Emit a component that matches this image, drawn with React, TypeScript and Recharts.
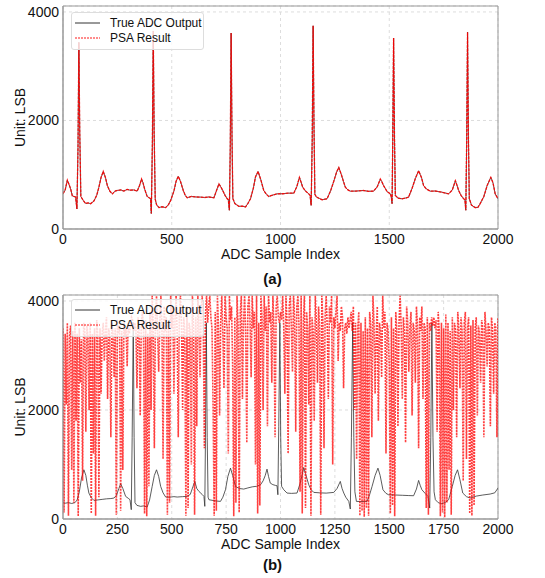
import React from 'react';
import { LineChart, Line, XAxis, YAxis, CartesianGrid, ReferenceArea } from 'recharts';

// (a) true ADC output, PSA result is identical here
const aIdx = [0, 10, 20, 28, 35, 43, 50, 58, 64, 69, 73, 77, 82, 93, 104, 115, 127, 142, 155, 165, 175, 185, 195, 204, 215, 227, 240, 250, 265, 280, 295, 310, 326, 341, 352, 361, 368, 375, 387, 398, 403, 406, 411, 415, 419, 424, 430, 441, 455, 472, 485, 495, 510, 520, 530, 540, 553, 562, 571, 590, 610, 632, 650, 670, 694, 705, 717, 725, 733, 745, 755, 760, 765, 769, 773, 777, 781, 790, 808, 825, 839, 850, 862, 875, 885, 897, 910, 923, 935, 946, 960, 984, 1010, 1035, 1061, 1075, 1087, 1095, 1102, 1115, 1130, 1136, 1141, 1146, 1150, 1154, 1158, 1165, 1180, 1191, 1205, 1214, 1230, 1245, 1258, 1268, 1280, 1290, 1298, 1310, 1321, 1350, 1380, 1405, 1428, 1445, 1459, 1466, 1474, 1490, 1505, 1509, 1513, 1516, 1520, 1524, 1528, 1540, 1559, 1575, 1589, 1605, 1620, 1635, 1648, 1658, 1670, 1689, 1710, 1740, 1773, 1790, 1804, 1812, 1819, 1830, 1842, 1848, 1852, 1856, 1860, 1864, 1868, 1878, 1895, 1908, 1918, 1935, 1950, 1967, 1977, 1987, 2000];
const aVal = [650, 720, 900, 820, 740, 610, 600, 590, 370, 1500, 3440, 1800, 600, 527, 470, 480, 467, 515, 620, 770, 950, 1060, 950, 800, 700, 648, 700, 710, 720, 700, 730, 715, 720, 697, 800, 920, 850, 740, 600, 570, 557, 285, 1600, 3650, 1800, 550, 450, 394, 410, 394, 450, 527, 700, 880, 970, 880, 710, 620, 576, 600, 590, 588, 580, 590, 576, 700, 830, 780, 721, 620, 557, 540, 345, 1500, 3612, 1700, 560, 470, 418, 420, 406, 470, 557, 750, 960, 1060, 900, 710, 640, 600, 620, 648, 650, 660, 660, 780, 952, 860, 770, 700, 648, 620, 436, 1700, 3745, 1900, 640, 590, 560, 540, 550, 557, 700, 880, 1050, 1133, 1000, 870, 770, 720, 697, 700, 710, 695, 697, 780, 920, 870, 800, 690, 648, 600, 467, 1600, 3520, 1700, 620, 570, 557, 570, 588, 750, 930, 1073, 950, 800, 740, 697, 700, 680, 648, 720, 890, 800, 710, 620, 557, 540, 345, 1600, 3630, 1700, 560, 440, 394, 400, 467, 600, 800, 952, 850, 648, 557];

// (b) true ADC output
const bIdx = [0, 10, 25, 40, 55, 65, 75, 85, 96, 105, 112, 119, 130, 142, 160, 180, 200, 220, 234, 245, 257, 265, 275, 288, 300, 308, 314, 318, 323, 327, 331, 340, 357, 370, 387, 398, 410, 420, 430, 440, 449, 460, 472, 490, 510, 525, 550, 570, 585, 598, 606, 615, 625, 640, 648, 652, 655, 659, 663, 667, 671, 690, 705, 724, 735, 747, 758, 770, 780, 793, 810, 831, 850, 870, 890, 908, 920, 930, 938, 945, 953, 965, 978, 984, 988, 992, 997, 1001, 1005, 1015, 1030, 1050, 1076, 1090, 1100, 1107, 1115, 1130, 1140, 1153, 1180, 1210, 1245, 1260, 1275, 1283, 1291, 1300, 1314, 1321, 1326, 1332, 1337, 1342, 1349, 1370, 1398, 1410, 1421, 1435, 1448, 1458, 1471, 1485, 1497, 1530, 1560, 1590, 1612, 1625, 1635, 1642, 1650, 1665, 1678, 1686, 1691, 1696, 1701, 1706, 1712, 1725, 1742, 1760, 1773, 1790, 1803, 1814, 1825, 1838, 1855, 1872, 1900, 1930, 1964, 1985, 2000];
const bVal = [300, 290, 300, 285, 300, 350, 500, 750, 903, 800, 620, 476, 390, 342, 350, 360, 370, 375, 384, 430, 560, 647, 560, 415, 380, 354, 171, 1500, 3600, 1500, 300, 250, 232, 240, 220, 350, 598, 800, 903, 780, 598, 480, 403, 400, 410, 403, 410, 415, 450, 600, 690, 560, 506, 450, 415, 232, 1500, 3600, 1500, 400, 354, 340, 330, 323, 400, 537, 780, 933, 800, 598, 560, 549, 570, 590, 600, 628, 700, 800, 915, 780, 659, 630, 615, 610, 445, 1700, 3600, 1500, 600, 537, 476, 470, 476, 650, 820, 945, 830, 628, 540, 488, 480, 475, 488, 560, 690, 560, 476, 400, 323, 183, 1500, 3600, 1500, 500, 323, 320, 323, 450, 598, 800, 933, 800, 537, 470, 445, 440, 435, 430, 427, 550, 708, 620, 537, 470, 415, 201, 1500, 3600, 1500, 500, 354, 300, 280, 310, 354, 600, 800, 903, 720, 476, 410, 384, 420, 440, 458, 480, 567];

// (b) PSA result, one value every 5 samples
const psaStep = 5;
const psaB = [
  3500, 120, 3400, 2100, 3600, 60, 3350, 3550, 900, 3450, 300, 3600, 1800, 3400, 50, 3500, 2500, 3300, 700, 3600,
  3450, 1600, 3550, 3350, 2000, 3600, 100, 3400, 1200, 3500, 60, 3650, 3350, 400, 3500, 2300, 3400, 3600, 2900, 3450,
  3700, 2200, 3500, 3350, 1500, 3600, 3400, 2600, 3500, 80, 3650, 3400, 3550, 150, 3450, 900, 3600, 3350, 3500, 2800,
  3600, 3400, 3550, 3700, 3650, 3450, 3600, 3500, 2400, 3700, 3450, 1900, 3600, 3800, 3500, 100, 3650, 50, 3400, 600,
  3800, 2000, 4095, 3500, 1300, 3700, 4095, 3400, 2700, 3600, 4095, 3500, 1100, 3900, 3450, 3700, 80, 3600, 300, 4095,
  3500, 3900, 2300, 3650, 4095, 3400, 1500, 3800, 4095, 3550, 2000, 3700, 3450, 60, 3900, 200, 3600, 3450, 1000, 4095,
  3500, 80, 3700, 1700, 4095, 3600, 2600, 3850, 4095, 3500, 1300, 3750, 4095, 3600, 3900, 4095, 3700, 3500, 2100, 60,
  3800, 150, 4095, 3500, 1900, 3600, 4095, 3400, 2400, 4095, 3700, 3500, 1200, 4095, 3650, 3900, 2800, 50, 3700, 300,
  4095, 3550, 120, 3800, 4095, 2200, 3600, 4095, 3450, 1400, 3900, 4095, 3600, 2600, 4095, 3500, 3800, 1000, 4095, 100,
  3600, 250, 4095, 3700, 2000, 4095, 3450, 3900, 1700, 4095, 3600, 3800, 2500, 4095, 3500, 1500, 3900, 4095, 3700, 3600,
  3800, 3650, 4095, 3500, 2300, 4095, 3600, 1200, 3900, 4095, 3500, 2700, 4095, 3700, 1600, 3900, 4095, 3550, 500, 4095,
  100, 3600, 4095, 200, 3800, 3500, 2100, 4095, 60, 3700, 3450, 1800, 4095, 3600, 2500, 3900, 3500, 80, 4095, 3600,
  1300, 3700, 4095, 3500, 2200, 3900, 3600, 4095, 1000, 3700, 3500, 3800, 4095, 2900, 3600, 3450, 3900, 3700, 2400, 3500,
  3600, 3400, 3700, 3500, 3650, 3800, 3450, 3900, 2000, 3600, 1100, 3500, 3800, 60, 3600, 150, 3450, 40, 3700, 200,
  3500, 60, 3800, 3550, 1500, 4095, 3600, 2300, 3400, 3900, 1800, 3600, 3450, 2600, 4095, 3500, 3800, 1200, 3600, 3450,
  2800, 100, 3700, 250, 3500, 50, 3800, 3450, 1700, 3600, 4095, 3500, 2200, 3700, 3400, 1400, 3900, 3600, 2700, 3500,
  3800, 1900, 3600, 3450, 2500, 3900, 3550, 1300, 3700, 3450, 3900, 2200, 3600, 3500, 200, 3700, 80, 3600, 3450, 3700,
  3550, 3700, 3500, 3650, 1600, 3800, 3450, 50, 3600, 120, 3500, 30, 3750, 300, 3600, 900, 3450, 80, 3700, 2000,
  3600, 3450, 1500, 3800, 3500, 2400, 3700, 3450, 700, 3600, 3800, 1100, 3500, 3700, 100, 3550, 60, 3650, 250, 3500,
  3700, 1900, 3550, 3400, 2500, 3650, 3500, 1500, 3800, 3450, 2800, 3600, 3500, 1700, 3700, 3450, 2300, 3600, 3500, 1500, 3700,
];

const xTicksA = [0, 500, 1000, 1500, 2000];
const xTicksB = [0, 250, 500, 750, 1000, 1250, 1500, 1750, 2000];
const yTicks = [0, 2000, 4000];

const FONT = '"Liberation Sans", Arial, sans-serif';
const tickStyle = { fontFamily: FONT, fontSize: 14, fill: '#111' };
const labelStyle = { fontFamily: FONT, fontSize: 14, fill: '#111' };

const dataA = aIdx.map((x, i) => ({ x, v: aVal[i] }));
const dataB = bIdx.map((x, i) => ({ x, v: bVal[i] }));
const dataPsaB = psaB.map((v, i) => ({ x: i * psaStep, v }));

function LegendBox({ top }: { top: number }) {
  return (
    <div
      style={{
        position: 'absolute', left: 71, top, width: 131, height: 36,
        background: 'rgba(255,255,255,0.8)', border: '1px solid #ddd', borderRadius: 3,
        fontFamily: FONT, fontSize: 12, color: '#111',
      }}
    >
      <div style={{ position: 'absolute', left: 3, top: 3, display: 'flex', alignItems: 'center', height: 14 }}>
        <svg width={25} height={14}><line x1={0} y1={7} x2={25} y2={7} stroke="#333" strokeWidth={1} /></svg>
        <span style={{ marginLeft: 10 }}>True ADC Output</span>
      </div>
      <div style={{ position: 'absolute', left: 3, top: 18, display: 'flex', alignItems: 'center', height: 14 }}>
        <svg width={25} height={14}><line x1={0} y1={7} x2={25} y2={7} stroke="red" strokeOpacity={0.6} strokeDasharray="2 1" strokeWidth={1.4} /></svg>
        <span style={{ marginLeft: 10 }}>PSA Result</span>
      </div>
    </div>
  );
}

function Panel({ trueData, psaData, xTicks, top, psaWidth, psaOpacity, psaDash }: { trueData: any[]; psaData: any[]; xTicks: number[]; top: number; psaWidth: number; psaOpacity: number; psaDash: string }) {
  return (
    <LineChart width={545} height={270} margin={{ top, right: 47, left: 8, bottom: 3 }} data={trueData}>
      <CartesianGrid stroke="#ddd" strokeDasharray="3 3" />
      <XAxis
        type="number" dataKey="x" domain={[0, 2000]} ticks={xTicks} allowDataOverflow
        tickLine={false} tickSize={0} tickMargin={5} axisLine={{ stroke: '#999' }} tick={tickStyle} height={30}
        label={{ value: 'ADC Sample Index', position: 'insideBottom', offset: 0, ...labelStyle }}
      />
      <YAxis
        type="number" domain={[0, 4110]} ticks={yTicks} allowDataOverflow
        tickLine={false} tickSize={0} tickMargin={4} axisLine={{ stroke: '#999' }} tick={tickStyle} width={55}
        label={{ value: 'Unit: LSB', angle: -90, position: 'insideLeft', offset: 12, textAnchor: 'middle', ...labelStyle }}
      />
      <ReferenceArea x1={0} x2={2000} y1={0} y2={4110} fill="none" stroke="#999" strokeWidth={1} />
      <Line data={trueData} dataKey="v" type="linear" stroke="#333" strokeWidth={0.8} dot={false} isAnimationActive={false} />
      <Line data={psaData} dataKey="v" type="linear" stroke="#ff0000" strokeOpacity={psaOpacity} strokeWidth={psaWidth} strokeDasharray={psaDash} dot={false} isAnimationActive={false} />
    </LineChart>
  );
}

export default function App() {
  const caption = { position: 'absolute' as const, left: 0, width: 545, textAlign: 'center' as const, fontFamily: FONT, fontWeight: 'bold' as const, fontSize: 15, color: '#111' };
  return (
    <div style={{ position: 'absolute', left: 0, top: 0, width: 545, height: 578, background: '#fff' }}>
      <div style={{ position: 'absolute', left: 0, top: -8 }}>
        <Panel trueData={dataA} psaData={dataA} xTicks={xTicksA} top={14} psaWidth={1.3} psaOpacity={0.9} psaDash="3 1" />
      </div>
      <div style={{ position: 'absolute', left: 0, top: 282 }}>
        <Panel trueData={dataB} psaData={dataPsaB} xTicks={xTicksB} top={13} psaWidth={1.6} psaOpacity={0.75} psaDash="2 1" />
      </div>
      <LegendBox top={12} />
      <LegendBox top={299} />
      <div style={{ ...caption, top: 270 }}>(a)</div>
      <div style={{ ...caption, top: 556 }}>(b)</div>
    </div>
  );
}
